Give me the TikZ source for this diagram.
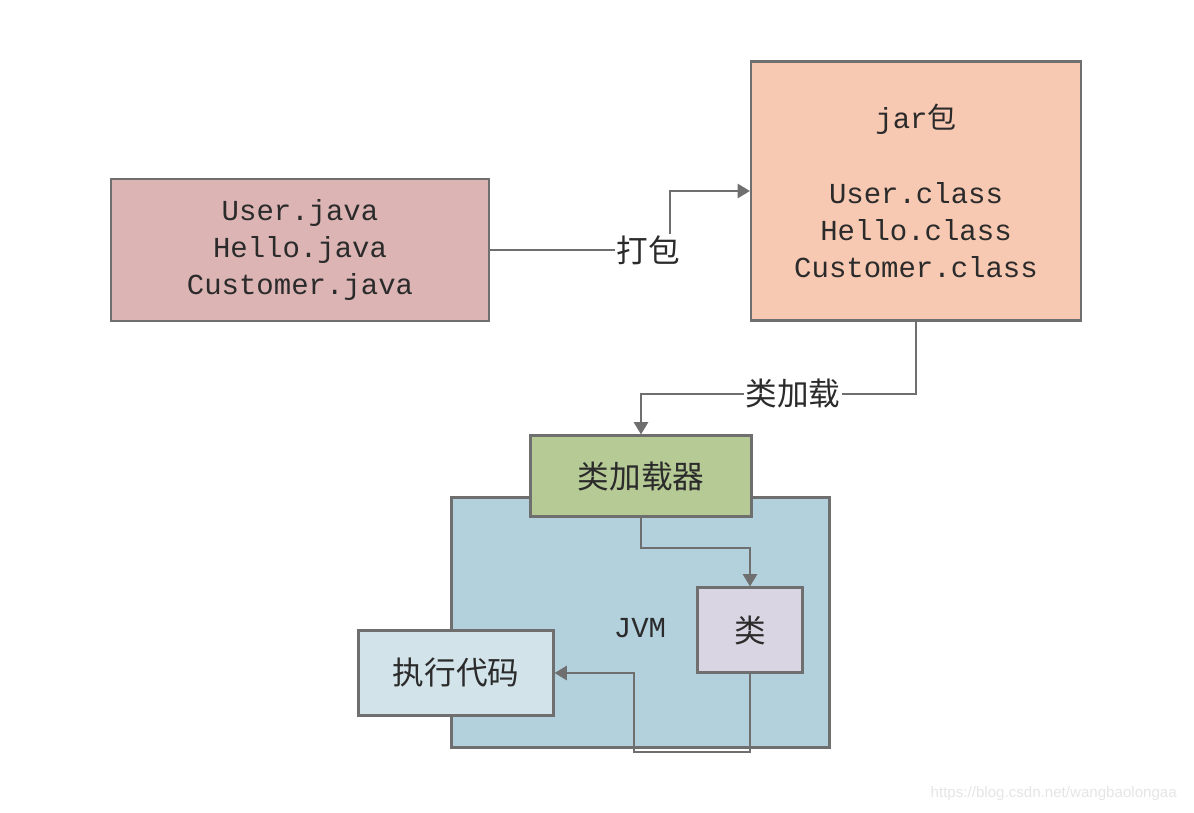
\documentclass[tikz,border=0pt]{standalone}
\usepackage{fontspec}
\setmainfont{Liberation Mono}
\newfontfamily\cjk{Noto Sans CJK SC}
\newfontfamily\webfont{Liberation Sans}
\usetikzlibrary{arrows.meta}
\definecolor{edgegray}{HTML}{6F6F6F}
\definecolor{textdark}{HTML}{2B2B2B}
\definecolor{srcfill}{HTML}{DCB4B4}
\definecolor{jarfill}{HTML}{F8C9B2}
\definecolor{loaderfill}{HTML}{B5CA94}
\definecolor{jvmfill}{HTML}{B2D1DD}
\definecolor{classfill}{HTML}{D9D5E3}
\definecolor{execfill}{HTML}{D2E3EA}
\tikzset{
    box/.style={
           rectangle,
           draw=edgegray, line width=1.2pt,
           inner sep=0pt,
           text=textdark,
           align=center,
           },
    codetext/.style={font={\fontsize{16.5}{21.3}\selectfont}},
    cjktext/.style={font={\cjk\fontsize{18}{21}\selectfont}},
    conn/.style={
           draw=edgegray, line width=1.4pt,
           -{Triangle[length=7pt,width=8pt]},
           },
    lbl/.style={fill=white, inner sep=1pt, text=textdark},
}

\begin{document}
\begin{tikzpicture}[x=0.02cm, y=-0.02cm]
    \useasboundingbox (0,0) rectangle (1194,812);

    % source files
    \node[box, codetext, fill=srcfill,
    minimum width=7.55cm,	% 380px wide
    minimum height=2.84cm] (src)
    at (300,250) {User.java\\Hello.java\\Customer.java};

    % packed jar
    \node[box, codetext, fill=jarfill,
    minimum width=6.6cm,
    minimum height=5.18cm] (jar)
    at (916,191) {jar{\cjk 包}\\[21.3pt]User.class\\Hello.class\\Customer.class};

    % the JVM and what lives in it
    \node[box, codetext, fill=jvmfill,
    minimum width=7.56cm,
    minimum height=5.0cm] (jvm)
    at (640.5,622.5) {};
    \node[text=textdark, codetext] (jvmname) at (640,628) {JVM};

    \node[box, cjktext, fill=loaderfill,
    minimum width=4.42cm,
    minimum height=1.62cm] (loader)
    at (641,476) {类加载器};

    \node[box, cjktext, fill=classfill,
    minimum width=2.1cm,
    minimum height=1.7cm] (cls)
    at (750,630) {类};

    \node[box, cjktext, fill=execfill,
    minimum width=3.9cm,
    minimum height=1.7cm] (exec)
    at (456,673) {执行代码};

    % bends of the connectors
    \coordinate (packbend) at (670,250);
    \coordinate (loadbend) at (916,394);
    \coordinate (clsbend) at (641,548);
    \coordinate (runbend) at (634,752);

    \draw[conn] (src.east) -- (packbend) |- (jar.west);
    \draw[conn] (jar.south) -- (loadbend) -| (loader.north);
    \draw[conn] (loader.south) -- (clsbend) -| (cls.north);
    \draw[conn] (cls.south) |- (runbend) |- (exec.east);

    % labels sit on top of the lines
    \node[lbl, cjktext] (pack) at (648,250) {打包};
    \node[lbl, cjktext] (load) at (793,393) {类加载};

    \node[text=black!10, font={\webfont\fontsize{8.6}{10}\selectfont}, anchor=east] (mark)
    at (1183,794) {https://blog.csdn.net/wangbaolongaa};
\end{tikzpicture}
\end{document}
